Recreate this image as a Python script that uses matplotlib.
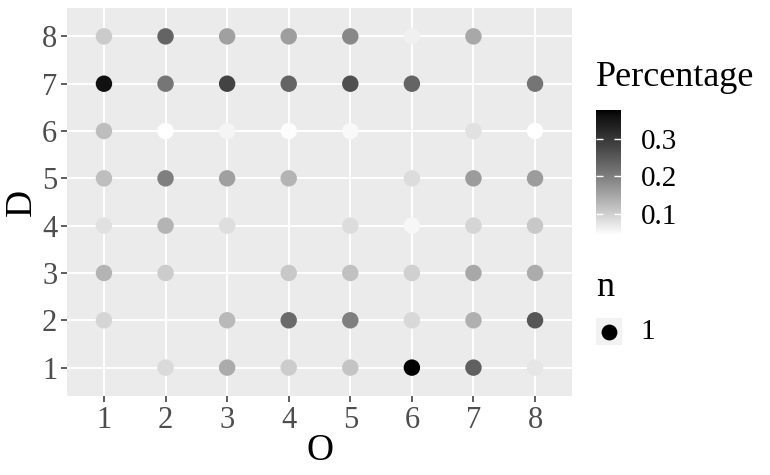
import numpy as np
import matplotlib
matplotlib.use("Agg")
import matplotlib.pyplot as plt
from matplotlib.colors import ListedColormap, Normalize

plt.rcParams['font.family'] = ['Liberation Serif', 'DejaVu Serif']

# origin / destination categories
O = [1, 2, 3, 4, 5, 6, 7, 8]
D = [1, 2, 3, 4, 5, 6, 7, 8]

# Percentage per D row (columns O1..O8), nan = no point
pct_d1 = [np.nan, 0.087, 0.145, 0.104, 0.114, 0.377, 0.241, 0.073]
pct_d2 = [0.094, np.nan, 0.126, 0.228, 0.199, 0.090, 0.138, 0.256]
pct_d3 = [0.133, 0.104, np.nan, 0.109, 0.118, 0.099, 0.148, 0.143]
pct_d4 = [0.080, 0.133, 0.082, np.nan, 0.085, 0.054, 0.094, 0.109]
pct_d5 = [0.121, 0.199, 0.158, 0.133, np.nan, 0.085, 0.163, 0.163]
pct_d6 = [0.121, 0.044, 0.057, 0.047, 0.051, np.nan, 0.080, 0.044]
pct_d7 = [0.360, 0.211, 0.281, 0.236, 0.263, 0.236, np.nan, 0.212]
pct_d8 = [0.106, 0.236, 0.158, 0.160, 0.188, 0.061, 0.148, np.nan]
rows = [pct_d1, pct_d2, pct_d3, pct_d4, pct_d5, pct_d6, pct_d7, pct_d8]

cbar_ticks = [0.1, 0.2, 0.3]
n_levels = [1]


# white -> black gradient interpolated in Lab lightness (like ggplot)
def lab_grey(L):
    fy = (L + 16) / 116
    Y = np.where(fy ** 3 > 0.008856, fy ** 3, L / 903.3)
    s = np.where(Y <= 0.0031308, 12.92 * Y, 1.055 * Y ** (1 / 2.4) - 0.055)
    return np.clip(s, 0, 1)

Ls = np.linspace(100, 0, 256)
g = lab_grey(Ls)
cmap = ListedColormap(np.column_stack([g, g, g]))

xs, ys, vs = [], [], []
for d, row in zip(D, rows):
    for o, v in zip(O, row):
        if not np.isnan(v):
            xs.append(o)
            ys.append(d)
            vs.append(v)
vmin, vmax = min(vs), max(vs)
norm = Normalize(vmin, vmax)

fig = plt.figure(figsize=(7.7, 4.75), dpi=100)
ax = fig.add_axes([67 / 770, 1 - 396 / 475, 505 / 770, 388 / 475])
ax.set_facecolor('#ebebeb')
ax.scatter(xs, ys, c=vs, cmap=cmap, norm=norm, s=140, linewidths=0, zorder=3)
ax.set_xlim(0.4, 8.6)
ax.set_ylim(0.4, 8.6)
ax.set_xticks(O)
ax.set_yticks(D)
ax.grid(True, color='white', linewidth=1.4, zorder=1)
ax.set_axisbelow(True)
for sp in ax.spines.values():
    sp.set_visible(False)
ax.tick_params(length=4, width=1.1, color='#333333', labelcolor='#4d4d4d',
               labelsize=22, pad=3)
ax.set_xlabel('O', fontsize=27, va='center')
ax.set_ylabel('D', fontsize=27, va='center')
ax.xaxis.set_label_coords(0.5, (396 - 451) / 388)
ax.yaxis.set_label_coords((22 - 67) / 505, 0.5)

# colourbar
cax = fig.add_axes([596 / 770, 1 - 235 / 475, 25 / 770, 125 / 475])
sm = plt.cm.ScalarMappable(norm=norm, cmap=cmap)
cb = fig.colorbar(sm, cax=cax, ticks=cbar_ticks)
cb.outline.set_visible(False)
cax.tick_params(direction='in', color='white', length=5, width=1,
                left=True, right=True, labelsize=21, pad=14)
cax.set_yticklabels(['%.1f' % t for t in cbar_ticks])
fig.text(596 / 770, 1 - 77 / 475, 'Percentage', fontsize=26, va='center', ha='left')

# size legend
fig.text(596 / 770, 1 - 287 / 475, 'n', fontsize=26, va='center', ha='left')
kax = fig.add_axes([596 / 770, 1 - 345 / 475, 26 / 770, 27 / 475])
kax.set_facecolor('#f2f2f2')
kax.scatter([0], [0], s=130, color='black', linewidths=0)
kax.set_xlim(-1, 1)
kax.set_ylim(-1, 1)
kax.set_xticks([])
kax.set_yticks([])
for sp in kax.spines.values():
    sp.set_visible(False)
fig.text(640 / 770, 1 - 332 / 475, str(n_levels[0]), fontsize=21, va='center', ha='left')

fig.savefig('out.png', dpi=100)
